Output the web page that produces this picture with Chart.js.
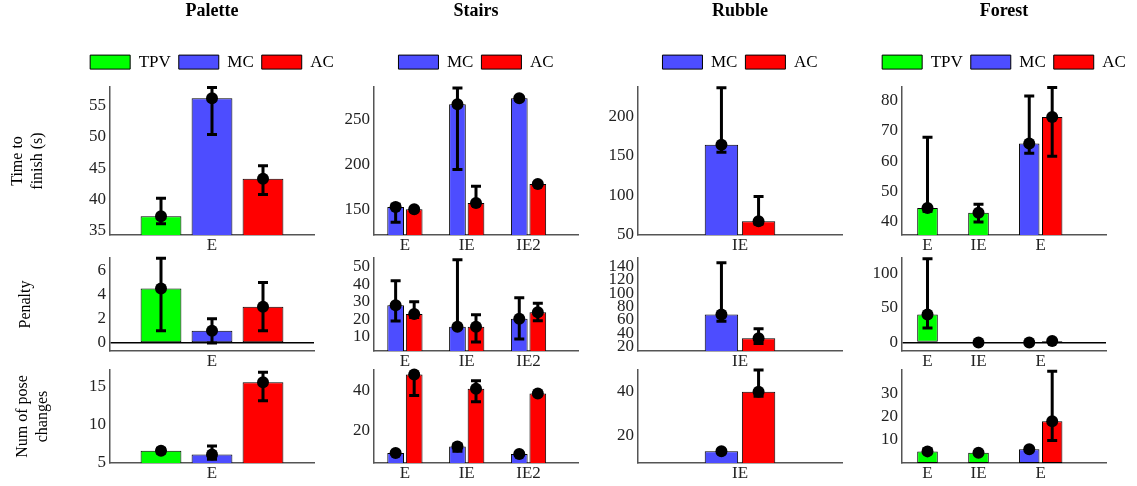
<!DOCTYPE html>
<html>
<head>
<meta charset="utf-8">
<script src="https://cdn.jsdelivr.net/npm/chart.js@4.4.0/dist/chart.umd.min.js"></script>
<style>
  html, body { margin: 0; padding: 0; background: #fff; overflow: hidden; width: 1137px; height: 486px; }
  canvas { position: absolute; }
</style>
</head>
<body>
<script>
// ---- dados ----
var series = ['TPV', 'MC', 'AC'];
var cenarios = ['Palette', 'Stairs', 'Rubble', 'Forest'];
var metricas = [['Time to', 'finish (s)'], 'Penalty', ['Num of pose', 'changes']];

var categoriasPalette = ['E'];
var categoriasStairs = ['E', 'IE', 'IE2'];
var categoriasRubble = ['IE'];
var categoriasForest = ['E', 'IE', 'E'];

// Time to finish (s): media e [min, max] de cada serie
var tempoPaletteTPV = [37.3];            var tempoPaletteTPVErro = [[36.1, 40.2]];
var tempoPaletteMC = [56.2];             var tempoPaletteMCErro = [[50.4, 57.9]];
var tempoPaletteAC = [43.3];             var tempoPaletteACErro = [[40.8, 45.4]];
var tempoStairsMC = [153, 267, 273.5];   var tempoStairsMCErro = [[136, 156], [194.5, 285], [272, 275]];
var tempoStairsAC = [150.5, 157.5, 178.5]; var tempoStairsACErro = [[149, 152], [155, 176], [177, 180]];
var tempoRubbleMC = [164];               var tempoRubbleMCErro = [[154.5, 236]];
var tempoRubbleAC = [67.5];              var tempoRubbleACErro = [[64, 98.7]];
var tempoForestTPV = [44.6, 43, null];   var tempoForestTPVErro = [[43.5, 67.9], [40, 45.8], null];
var tempoForestMC = [null, null, 65.8];  var tempoForestMCErro = [null, null, [62.6, 81.4]];
var tempoForestAC = [null, null, 74.5];  var tempoForestACErro = [null, null, [61.6, 84.2]];

// Penalty
var penalPaletteTPV = [4.5];             var penalPaletteTPVErro = [[1, 7]];
var penalPaletteMC = [1];                var penalPaletteMCErro = [[0, 2]];
var penalPaletteAC = [3];                var penalPaletteACErro = [[1, 5]];
var penalStairsMC = [28, 15.8, 20.3];    var penalStairsMCErro = [[19, 42], [15, 54], [8.8, 32.3]];
var penalStairsAC = [23, 15.8, 24];      var penalStairsACErro = [[21, 30], [7, 22.6], [19.2, 29.2]];
var penalRubbleMC = [68];                var penalRubbleMCErro = [[58, 145]];
var penalRubbleAC = [33];                var penalRubbleACErro = [[25, 47]];
var penalForestTPV = [40.4, 0, null];    var penalForestTPVErro = [[21, 121], [0, 0], null];
var penalForestMC = [null, null, 0];     var penalForestMCErro = [null, null, [0, 0]];
var penalForestAC = [null, null, 2];     var penalForestACErro = [null, null, [1, 3]];

// Num of pose changes
var posePaletteTPV = [6.6];              var posePaletteTPVErro = [[6.3, 6.9]];
var posePaletteMC = [6.1];               var posePaletteMCErro = [[5.5, 7.2]];
var posePaletteAC = [15.5];              var posePaletteACErro = [[13.1, 16.8]];
var poseStairsMC = [8.8, 12, 8.3];       var poseStairsMCErro = [[8.3, 9.3], [9.7, 13], [7.8, 8.8]];
var poseStairsAC = [48, 40.8, 38.5];     var poseStairsACErro = [[37.5, 48.5], [34.3, 44.8], [38, 39]];
var poseRubbleMC = [12.8];               var poseRubbleMCErro = [[12.5, 13.2]];
var poseRubbleAC = [40];                 var poseRubbleACErro = [[38, 50]];
var poseForestTPV = [5, 4.4, null];      var poseForestTPVErro = [[4.5, 6], [4, 5], null];
var poseForestMC = [null, null, 5.9];    var poseForestMCErro = [null, null, [5.5, 6.5]];
var poseForestAC = [null, null, 18];     var poseForestACErro = [null, null, [9.7, 39.5]];

// rotulos do eixo y
var ticksTempoPalette = [35, 40, 45, 50, 55];
var ticksTempoStairs = [150, 200, 250];
var ticksTempoRubble = [50, 100, 150, 200];
var ticksTempoForest = [40, 50, 60, 70, 80];
var ticksPenalPalette = [0, 2, 4, 6];
var ticksPenalStairs = [10, 20, 30, 40, 50];
var ticksPenalRubble = [20, 40, 60, 80, 100, 120, 140];
var ticksPenalForest = [0, 50, 100];
var ticksPosePalette = [5, 10, 15];
var ticksPoseStairs = [20, 40];
var ticksPoseRubble = [20, 40];
var ticksPoseForest = [10, 20, 30];

// ---- layout ----
var cores = { TPV: '#00ff00', MC: '#4d4dff', AC: '#ff0000' };
var fonte = 'Liberation Serif';
var colunasX = [110, 374, 638, 902];
var larguraEixoY = [110, 50, 50, 50];
var larguraPlot = 204;
var linhasY = [87, 258, 370];
var alturasPlot = [148, 93, 93];
var alturaEixoX = 24;
var posicoesX = [[1], [1, 2, 3], [1], [1, 2, 3.22]];
var limitesX = [[0.5, 1.5], [0.5, 3.8], [0.5, 1.5], [0.5, 4.5]];
var limitesY = [
	[[34.3, 58], [122, 286], [50, 237], [35.7, 84.4]],
	[[-0.67, 7.03], [1.9, 55], [14, 152], [-12.3, 122]],
	[[5, 17.1], [3.8, 50.2], [7.4, 50], [0, 40]]
];
var larguraBarras = [
	{ cat: 0.75, bar: 0.8 },
	{ cat: 0.6, bar: 0.9 },
	{ cat: 0.364, bar: 0.9 },
	{ cat: 0.9, bar: 0.89, max: 20.6 }
];
var paddingTituloY = [7, 15, 12];

function serie(nome, valores, erros) {
	return { nome: nome, valores: valores, erros: erros };
}

var paineis = [
	[
		{ categorias: categoriasPalette, ticks: ticksTempoPalette, series: [serie('TPV', tempoPaletteTPV, tempoPaletteTPVErro), serie('MC', tempoPaletteMC, tempoPaletteMCErro), serie('AC', tempoPaletteAC, tempoPaletteACErro)] },
		{ categorias: categoriasStairs, ticks: ticksTempoStairs, series: [serie('MC', tempoStairsMC, tempoStairsMCErro), serie('AC', tempoStairsAC, tempoStairsACErro)] },
		{ categorias: categoriasRubble, ticks: ticksTempoRubble, series: [serie('MC', tempoRubbleMC, tempoRubbleMCErro), serie('AC', tempoRubbleAC, tempoRubbleACErro)] },
		{ categorias: categoriasForest, ticks: ticksTempoForest, series: [serie('TPV', tempoForestTPV, tempoForestTPVErro), serie('MC', tempoForestMC, tempoForestMCErro), serie('AC', tempoForestAC, tempoForestACErro)] }
	],
	[
		{ categorias: categoriasPalette, ticks: ticksPenalPalette, series: [serie('TPV', penalPaletteTPV, penalPaletteTPVErro), serie('MC', penalPaletteMC, penalPaletteMCErro), serie('AC', penalPaletteAC, penalPaletteACErro)] },
		{ categorias: categoriasStairs, ticks: ticksPenalStairs, series: [serie('MC', penalStairsMC, penalStairsMCErro), serie('AC', penalStairsAC, penalStairsACErro)] },
		{ categorias: categoriasRubble, ticks: ticksPenalRubble, series: [serie('MC', penalRubbleMC, penalRubbleMCErro), serie('AC', penalRubbleAC, penalRubbleACErro)] },
		{ categorias: categoriasForest, ticks: ticksPenalForest, series: [serie('TPV', penalForestTPV, penalForestTPVErro), serie('MC', penalForestMC, penalForestMCErro), serie('AC', penalForestAC, penalForestACErro)] }
	],
	[
		{ categorias: categoriasPalette, ticks: ticksPosePalette, series: [serie('TPV', posePaletteTPV, posePaletteTPVErro), serie('MC', posePaletteMC, posePaletteMCErro), serie('AC', posePaletteAC, posePaletteACErro)] },
		{ categorias: categoriasStairs, ticks: ticksPoseStairs, series: [serie('MC', poseStairsMC, poseStairsMCErro), serie('AC', poseStairsAC, poseStairsACErro)] },
		{ categorias: categoriasRubble, ticks: ticksPoseRubble, series: [serie('MC', poseRubbleMC, poseRubbleMCErro), serie('AC', poseRubbleAC, poseRubbleACErro)] },
		{ categorias: categoriasForest, ticks: ticksPoseForest, series: [serie('TPV', poseForestTPV, poseForestTPVErro), serie('MC', poseForestMC, poseForestMCErro), serie('AC', poseForestAC, poseForestACErro)] }
	]
];

// barras de erro + ponto da media
var pluginBarrasErro = {
	id: 'barrasErro',
	afterDatasetsDraw: function(chart) {
		var ctx = chart.ctx;
		var escalaY = chart.scales.y;
		chart.data.datasets.forEach(function(dataset, i) {
			var meta = chart.getDatasetMeta(i);
			meta.data.forEach(function(barra, j) {
				var valor = dataset.data[j].y;
				var erro = dataset.erros[j];
				if (valor === null || !erro) return;
				var x = barra.x;
				var yMin = escalaY.getPixelForValue(erro[0]);
				var yMax = escalaY.getPixelForValue(erro[1]);
				var yMedia = escalaY.getPixelForValue(valor);
				ctx.save();
				ctx.strokeStyle = '#000';
				ctx.lineWidth = 3;
				ctx.beginPath();
				ctx.moveTo(x, yMin); ctx.lineTo(x, yMax);
				ctx.moveTo(x - 5, yMin); ctx.lineTo(x + 5, yMin);
				ctx.moveTo(x - 5, yMax); ctx.lineTo(x + 5, yMax);
				ctx.stroke();
				ctx.beginPath();
				ctx.arc(x, yMedia, 6, 0, 2 * Math.PI);
				ctx.fillStyle = '#000';
				ctx.fill();
				ctx.restore();
			});
		});
	}
};

// espaco extra abaixo da legenda
var pluginMargemLegenda = {
	id: 'margemLegenda',
	beforeInit: function(chart) {
		var fitOriginal = chart.legend.fit;
		chart.legend.fit = function() {
			fitOriginal.call(this);
			this.height += 6.4;
		};
	}
};

Chart.defaults.font.family = fonte;
Chart.defaults.color = '#222';

function criarGrafico(linha, coluna) {
	var painel = paineis[linha][coluna];
	var w = larguraEixoY[coluna];
	var topo = linha === 0 ? 0 : linhasY[linha] - 16;
	var altura = (linhasY[linha] - topo) + alturasPlot[linha] + alturaEixoX;
	var canvas = document.createElement('canvas');
	canvas.width = larguraPlot + 2 * w;
	canvas.height = altura;
	canvas.style.left = (colunasX[coluna] - w) + 'px';
	canvas.style.top = topo + 'px';
	document.body.appendChild(canvas);

	var posicoes = posicoesX[coluna];
	var barras = larguraBarras[coluna];
	var datasets = painel.series.map(function(s) {
		return {
			label: s.nome,
			data: s.valores.map(function(v, i) { return { x: posicoes[i], y: v }; }),
			erros: s.erros,
			backgroundColor: cores[s.nome],
			borderColor: '#000',
			borderWidth: 1,
			borderSkipped: false,
			categoryPercentage: barras.cat,
			barPercentage: barras.bar,
			maxBarThickness: barras.max,
			skipNull: true
		};
	});

	var plugins = [pluginBarrasErro];
	if (linha === 0) plugins.push(pluginMargemLegenda);

	var borda = { display: true, color: '#555', width: 1.5 };

	return new Chart(canvas.getContext('2d'), {
		type: 'bar',
		data: { datasets: datasets },
		options: {
			responsive: false,
			animation: false,
			events: [],
			layout: { padding: { top: linha === 0 ? 0 : 16, left: 0, right: 0, bottom: 0 } },
			plugins: {
				tooltip: { enabled: false },
				title: {
					display: linha === 0,
					text: cenarios[coluna],
					color: '#000',
					font: { family: fonte, size: 18, weight: 'bold' },
					padding: { top: 1, bottom: 23 }
				},
				legend: {
					display: linha === 0,
					labels: { boxWidth: 40, boxHeight: 14, padding: 8, color: '#000', font: { family: fonte, size: 17 } }
				}
			},
			scales: {
				x: {
					type: 'linear',
					min: limitesX[coluna][0],
					max: limitesX[coluna][1],
					offset: false,
					bounds: 'data',
					grid: { display: false, drawTicks: false, offset: false },
					border: borda,
					ticks: {
						autoSkip: false, maxRotation: 0, padding: 0,
						font: { family: fonte, size: 17 },
						callback: function(v, i) { return painel.categorias[i]; }
					},
					afterBuildTicks: function(escala) {
						escala.ticks = posicoes.map(function(p) { return { value: p }; });
					},
					afterFit: function(escala) { escala.height = alturaEixoX; }
				},
				y: {
					type: 'linear',
					position: 'left',
					min: limitesY[linha][coluna][0],
					max: limitesY[linha][coluna][1],
					beginAtZero: false,
					bounds: 'data',
					grid: {
						drawTicks: false,
						lineWidth: 1.5,
						color: function(c) { return c.tick && c.tick.value === 0 ? '#000' : 'rgba(0,0,0,0)'; }
					},
					border: borda,
					ticks: {
						autoSkip: false, padding: 4,
						font: { family: fonte, size: 17 },
						callback: function(v) { return String(v); }
					},
					title: {
						display: coluna === 0,
						text: metricas[linha],
						color: '#000',
						font: { family: fonte, size: 16, lineHeight: 1.3 },
						padding: { top: paddingTituloY[linha], bottom: 0 }
					},
					afterBuildTicks: function(escala) {
						escala.ticks = painel.ticks.map(function(t) { return { value: t }; });
					},
					afterFit: function(escala) { escala.width = w; }
				},
				direita: {
					type: 'linear',
					position: 'right',
					grid: { display: false },
					border: { display: false },
					ticks: { display: false },
					afterFit: function(escala) { escala.width = w; }
				}
			}
		},
		plugins: plugins
	});
}

for (var linha = 0; linha < 3; linha++) {
	for (var coluna = 0; coluna < 4; coluna++) {
		criarGrafico(linha, coluna);
	}
}
</script>
</body>
</html>
